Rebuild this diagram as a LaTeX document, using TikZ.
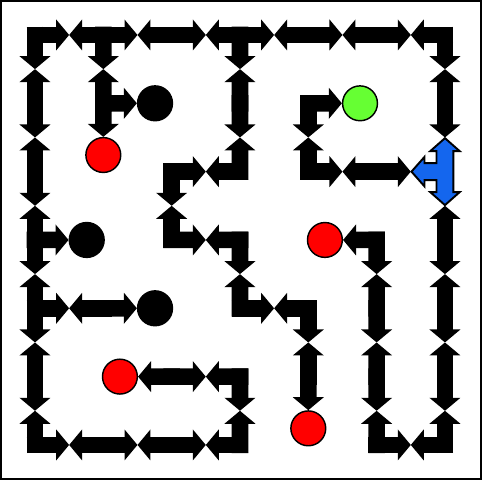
\documentclass[tikz,border=0pt]{standalone}
\usetikzlibrary{arrows.meta,calc}
\definecolor{goalgreen}{RGB}{102,255,51}
\definecolor{hubblue}{RGB}{20,102,238}

\begin{document}
\begin{tikzpicture}[
    road/.style={line width=6.9pt,shorten <=-3.45pt,-{Triangle[length=5.4pt,width=12.6pt]}},
    goal/.style={circle,draw=black,line width=0.6pt,inner sep=0pt,minimum size=0.51cm},
  ]
    \useasboundingbox (-0.512,0.512) rectangle (6.542,-6.513);
    %frame
    \draw[line width=0.8pt] (-0.498,0.498) rectangle (6.528,-6.499);
    %grid points
    \foreach \c in {0,...,6}
      \foreach \r in {0,...,6}
        \coordinate (p\c\r) at (\c,-\r);
    %two-way roads, both arrows meet halfway
    \foreach \a/\b in {00/10,10/20,20/30,30/40,40/50,50/60,
                       00/01,01/02,02/03,03/04,04/05,05/06,
                       06/16,16/26,26/36,36/35,35/25,04/14,10/11,
                       30/31,31/32,32/22,22/23,23/33,33/34,34/44,44/45,
                       60/61,41/42,42/52,
                       53/54,54/55,55/56,56/66,66/65,65/64,64/63}
    {
      \coordinate (m) at ($(p\a)!0.5!(p\b)$);
      \draw[road] (p\a) -- (m);
      \draw[road] (p\b) -- (m);
    }
    %roads into the blue crossing
    \foreach \a in {61,52,63}
    {
      \coordinate (m) at ($(p\a)!0.5!(p62)$);
      \draw[road] (p\a) -- (m);
    }
    %blue crossing
    \draw[fill=hubblue,line width=0.8pt,line join=miter,shift={(p62)}]
      (0,0.49) -- (0.215,0.3) -- (0.124,0.3) -- (0.124,-0.3) -- (0.215,-0.3)
      -- (0,-0.49) -- (-0.215,-0.3) -- (-0.124,-0.3) -- (-0.124,-0.124)
      -- (-0.3,-0.124) -- (-0.3,-0.215) -- (-0.49,0) -- (-0.3,0.215)
      -- (-0.3,0.124) -- (-0.124,0.124) -- (-0.124,0.3) -- (-0.215,0.3) -- cycle;
    %goals
    \node[goal,fill=black] (b1) at ($(p11)!0.757!(p21)$) {};
    \node[goal,fill=red] (r1) at ($(p11)!0.757!(p12)$) {};
    \node[goal,fill=black] (b2) at ($(p03)!0.757!(p13)$) {};
    \node[goal,fill=black] (b3) at ($(p14)!0.757!(p24)$) {};
    \node[goal,fill=red] (r2) at ($(p25)!0.757!(p15)$) {};
    \node[goal,fill=red] (r3) at ($(p45)!0.757!(p46)$) {};
    \node[goal,fill=red] (r4) at ($(p53)!0.757!(p43)$) {};
    \node[goal,fill=goalgreen] (g1) at ($(p41)!0.757!(p51)$) {};
    %one-way roads to goals
    \draw[road] (p11) -- (b1);
    \draw[road] (p11) -- (r1);
    \draw[road] (p03) -- (b2);
    \draw[road] (p14) -- (b3);
    \draw[road] (p25) -- (r2);
    \draw[road] (p45) -- (r3);
    \draw[road] (p53) -- (r4);
    \draw[road] (p41) -- (g1);
\end{tikzpicture}
\end{document}
